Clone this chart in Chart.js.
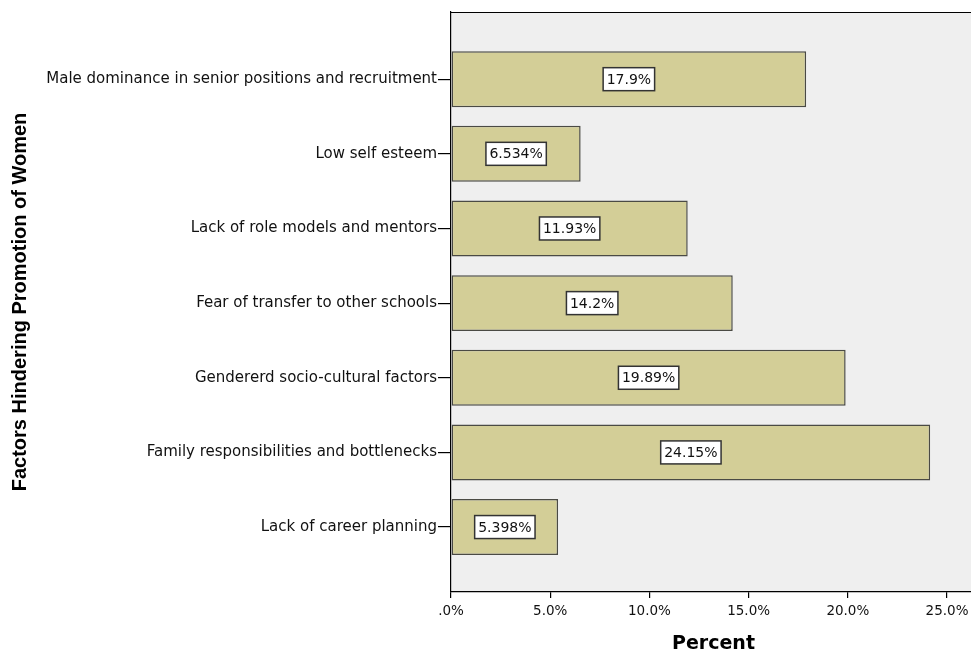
<!DOCTYPE html>
<html>
<head>
<meta charset="utf-8">
<script src="https://cdn.jsdelivr.net/npm/chart.js@4/dist/chart.umd.min.js"></script>
<style>
  html, body { margin: 0; padding: 0; background: #fff; overflow: hidden; }
  #wrap { width: 971px; height: 651px; overflow: hidden; }
  #inner { width: 976px; height: 651px; }
</style>
</head>
<body>
<div id="wrap"><div id="inner"><canvas id="chart"></canvas></div></div>
<script>
const categories = [
    "Male dominance in senior positions and recruitment",
    "Low self esteem",
    "Lack of role models and mentors",
    "Fear of transfer to other schools",
    "Gendererd socio-cultural factors",
    "Family responsibilities and bottlenecks",
    "Lack of career planning"
];

const percentValues = [17.9, 6.534, 11.93, 14.2, 19.89, 24.15, 5.398];

const xTicks = [0, 5, 10, 15, 20, 25];

const wideFont = "'DejaVu Sans', Verdana, sans-serif";
const boldFont = "'Liberation Sans', Arial, sans-serif";


/* plot background + top border */
const plotFrame = {
    id: "plotFrame",
    beforeDraw(chart) {
        const a = chart.chartArea;
        const c = chart.ctx;
        c.save();
        c.fillStyle = "#efefef";
        c.fillRect(a.left, a.top, a.right - a.left, a.bottom - a.top);
        c.restore();
    },
    afterDraw(chart) {
        const a = chart.chartArea;
        const c = chart.ctx;
        c.save();
        c.strokeStyle = "#000";
        c.lineWidth = 1.2;
        c.beginPath();
        c.moveTo(a.left, a.top + 0.5);
        c.lineTo(a.right + 20, a.top + 0.5);
        c.stroke();
        c.restore();
    }
};


/* boxed value labels in the middle of each bar */
const boxLabels = {
    id: "boxLabels",
    afterDatasetsDraw(chart) {
        const c = chart.ctx;
        const meta = chart.getDatasetMeta(0);
        c.save();
        c.font = "14px " + wideFont;
        c.textAlign = "center";
        c.textBaseline = "middle";
        meta.data.forEach((bar, i) => {
            const text = percentValues[i] + "%";
            const cx = (bar.x + bar.base) / 2;
            const cy = bar.y;
            const w = c.measureText(text).width + 7;
            const h = 23;
            c.fillStyle = "#fff";
            c.fillRect(cx - w / 2, cy - h / 2, w, h);
            c.strokeStyle = "#333";
            c.lineWidth = 1.5;
            c.strokeRect(cx - w / 2, cy - h / 2, w, h);
            c.fillStyle = "#111";
            c.fillText(text, cx, cy + 1);
        });
        c.restore();
    }
};


new Chart(document.getElementById("chart"), {

    type: "bar",

    data: {
        datasets: [
            {
                data: percentValues.map((v, i) => ({ x: v, y: i })),
                backgroundColor: "#d3ce97",
                borderColor: "#4a4a44",
                borderWidth: 1.5,
                borderSkipped: false,
                barPercentage: 0.75,
                categoryPercentage: 1
            }
        ]
    },

    options: {
        indexAxis: "y",
        responsive: true,
        maintainAspectRatio: false,
        animation: false,
        layout: {
            padding: { top: 12, right: 0, left: 0, bottom: 0 }
        },
        plugins: {
            legend: { display: false },
            tooltip: { enabled: false }
        },
        scales: {
            y: {
                type: "linear",
                reverse: true,
                offset: false,
                min: -0.9,
                max: 6.87,
                afterBuildTicks: scale => {
                    scale.ticks = categories.map((_, i) => ({ value: i }));
                },
                afterFit: scale => {
                    scale.width = 451;
                },
                ticks: {
                    autoSkip: false,
                    padding: 1,
                    color: "#111",
                    font: { family: wideFont, size: 15 },
                    callback: v => categories[v]
                },
                grid: {
                    offset: false,
                    drawOnChartArea: false,
                    drawTicks: true,
                    tickLength: 13,
                    color: "#000",
                    lineWidth: 1.2
                },
                border: { color: "#000", width: 1.2 },
                title: {
                    display: true,
                    text: "Factors Hindering Promotion of Women",
                    color: "#000",
                    font: { family: boldFont, size: 20, weight: "bold" },
                    padding: { top: 8, bottom: 0 }
                }
            },
            x: {
                type: "linear",
                min: 0,
                max: 26.46,
                afterBuildTicks: scale => {
                    scale.ticks = xTicks.map(v => ({ value: v }));
                },
                afterFit: scale => {
                    scale.height = 59;
                },
                ticks: {
                    padding: 5,
                    maxRotation: 0,
                    color: "#111",
                    font: { family: wideFont, size: 13.5 },
                    callback: v => v === 0 ? ".0%" : v.toFixed(1) + "%"
                },
                grid: {
                    drawOnChartArea: false,
                    drawTicks: true,
                    tickLength: 6,
                    color: "#000",
                    lineWidth: 1.2
                },
                border: { color: "#000", width: 1.2 },
                title: {
                    display: true,
                    text: "Percent",
                    color: "#000",
                    font: { family: wideFont, size: 19, weight: "bold" },
                    padding: { top: 0, bottom: -4 }
                }
            }
        }
    },

    plugins: [plotFrame, boxLabels]

});
</script>
</body>
</html>
